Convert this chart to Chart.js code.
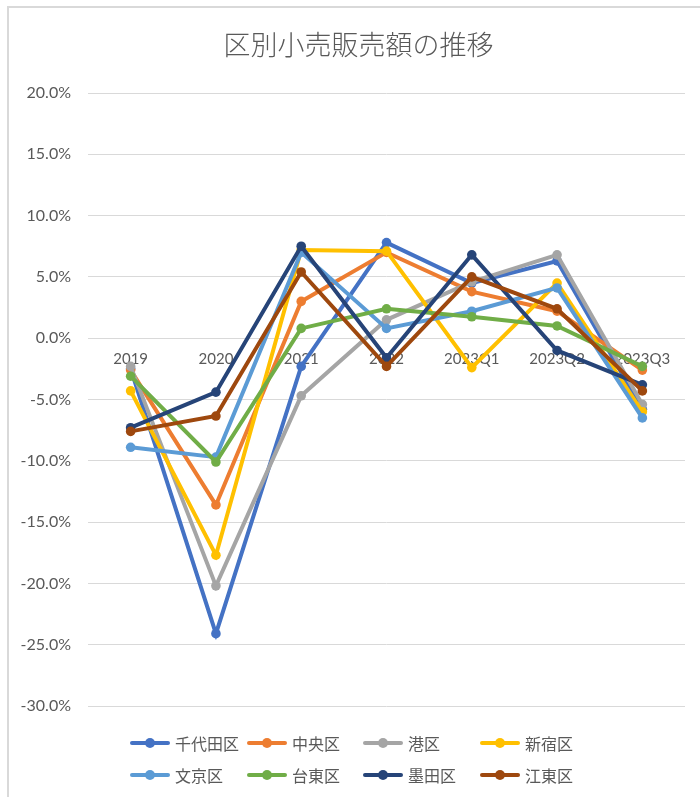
<!DOCTYPE html>
<html>
<head>
<meta charset="utf-8">
<script src="https://cdn.jsdelivr.net/npm/chart.js@4/dist/chart.umd.min.js"></script>
<style>
  body { margin: 0; background: #fff; }
  #wrap { position: relative; width: 700px; height: 797px; overflow: hidden; }
  #frame { position: absolute; left: 7px; top: 6px; width: 720px; height: 820px;
           border-left: 2px solid #d9d9d9; border-top: 2px solid #d9d9d9; }
  #grafico { position: absolute; left: 0; top: 0; }
</style>
</head>
<body>
<div id="wrap">
  <div id="frame"></div>
  <canvas id="grafico" width="700" height="797"></canvas>
</div>
<script>
// 区別小売販売額 前年比 (%)
var periodos = ['2019', '2020', '2021', '2022', '2023Q1', '2023Q2', '2023Q3']

var chiyoda = [-2.5, -24.1, -2.3, 7.8, 4.5, 6.3, -5.8]
var chuo = [-2.6, -13.6, 3.0, 7.0, 3.8, 2.2, -2.6]
var minato = [-2.3, -20.2, -4.7, 1.5, 4.6, 6.8, -5.4]
var shinjuku = [-4.3, -17.7, 7.2, 7.1, -2.4, 4.5, -6.0]
var bunkyo = [-8.9, -9.7, 7.0, 0.8, 2.2, 4.1, -6.5]
var taito = [-3.1, -10.1, 0.8, 2.4, 1.75, 1.0, -2.3]
var sumida = [-7.3, -4.4, 7.5, -1.6, 6.8, -1.0, -3.8]
var koto = [-7.6, -6.35, 5.4, -2.3, 5.0, 2.4, -4.3]

var nomes = ['千代田区', '中央区', '港区', '新宿区', '文京区', '台東区', '墨田区', '江東区']
var cores = ['#4472c4', '#ed7d31', '#a5a5a5', '#ffc000', '#5b9bd5', '#70ad47', '#264478', '#9e480e']
var series = [chiyoda, chuo, minato, shinjuku, bunkyo, taito, sumida, koto]

var cinza = '#595959'
var fonteJp = '"Noto Sans CJK JP", sans-serif'
var fonteNum = 'Lato, "Open Sans", sans-serif'

// Excel style legend: 4 columns, line + dot
var legendaExcel = {
    id: 'legendaExcel',
    afterLayout: function (chart) {
        // title is centred a bit to the right, like the Excel chart
        chart.titleBlock.left = 32
    },
    afterDraw: function (chart) {
        var c = chart.ctx
        var colunas = [130, 247, 363, 480]
        var linhas = [743, 775]
        c.save()
        c.font = '16px ' + fonteJp
        c.textBaseline = 'middle'
        c.textAlign = 'left'
        chart.data.datasets.forEach(function (ds, i) {
            var x = colunas[i % 4]
            var y = linhas[Math.floor(i / 4)]
            c.strokeStyle = ds.borderColor
            c.lineWidth = 4
            c.lineCap = 'round'
            c.beginPath()
            c.moveTo(x + 2, y)
            c.lineTo(x + 38, y)
            c.stroke()
            c.fillStyle = ds.borderColor
            c.beginPath()
            c.arc(x + 20, y, 5, 0, Math.PI * 2)
            c.fill()
            c.fillStyle = cinza
            c.fillText(ds.label, x + 45, y + 1)
        })
        c.restore()
    }
}

var datasets = []
for (var i = 0; i < series.length; i++) {
    datasets.push({
        label: nomes[i],
        data: series[i],
        borderColor: cores[i],
        backgroundColor: cores[i],
        borderWidth: 4,
        pointRadius: 4.8,
        pointHoverRadius: 4.8,
        pointBorderWidth: 0,
        tension: 0,
        order: series.length - i
    })
}

var myChart = new Chart(document.getElementById('grafico'), {
    type: 'line',
    data: { labels: periodos, datasets: datasets },
    plugins: [legendaExcel],
    options: {
        responsive: false,
        animation: false,
        layout: { padding: { left: 0, right: 15, top: 0, bottom: 91 } },
        plugins: {
            legend: { display: false },
            tooltip: { enabled: false },
            title: {
                display: true,
                text: '区別小売販売額の推移',
                color: cinza,
                font: { family: fonteJp, size: 27, weight: '300', lineHeight: 1.2 },
                padding: { top: 29, bottom: 31.6 }
            }
        },
        scales: {
            x: {
                type: 'category',
                position: { y: 0 },
                offset: true,
                grid: { display: false },
                border: { display: false },
                ticks: {
                    color: cinza,
                    font: { family: fonteNum, size: 15 },
                    padding: 4,
                    maxRotation: 0,
                    autoSkip: false
                }
            },
            y: {
                min: -30,
                max: 20,
                afterFit: function (s) { s.width = 88 },
                grid: { color: '#d9d9d9', lineWidth: 1, drawTicks: false },
                border: { display: false },
                ticks: {
                    stepSize: 5,
                    color: cinza,
                    padding: 17,
                    font: { family: fonteNum, size: 16 },
                    callback: function (v) { return v.toFixed(1) + '%' }
                }
            }
        }
    }
})
</script>
</body>
</html>
